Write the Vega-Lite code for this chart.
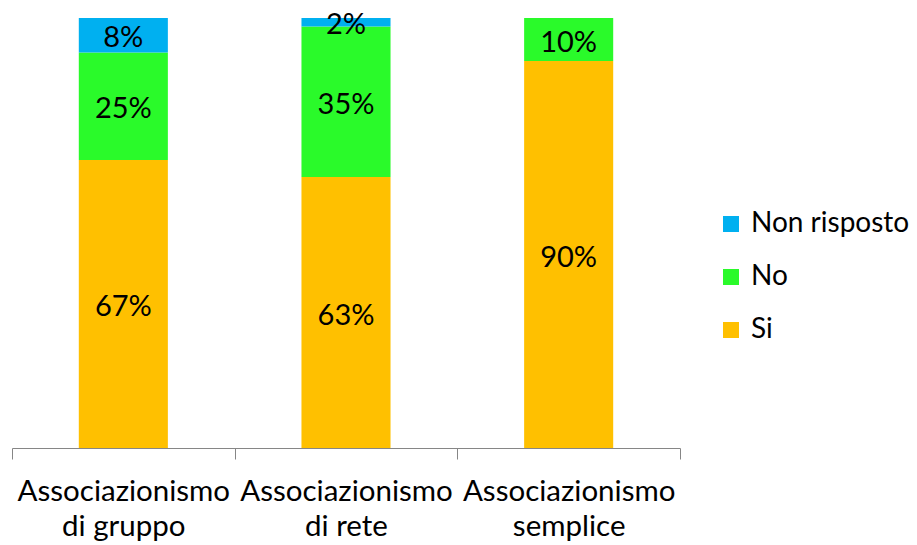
{
  "$schema": "https://vega.github.io/schema/vega-lite/v6.json",
  "autosize": "none",
  "width": 668,
  "height": 430,
  "padding": {"left": 12, "top": 18, "right": 237, "bottom": 97},
  "background": "white",
  "config": {"view": {"stroke": null}, "font": "Lato"},
  "data": {
    "values": [
      {"cat": "Associazionismo\ndi gruppo", "resp": "Si", "pct": 0.67, "ord": 1},
      {"cat": "Associazionismo\ndi gruppo", "resp": "No", "pct": 0.25, "ord": 2},
      {"cat": "Associazionismo\ndi gruppo", "resp": "Non risposto", "pct": 0.08, "ord": 3},
      {"cat": "Associazionismo\ndi rete", "resp": "Si", "pct": 0.63, "ord": 1},
      {"cat": "Associazionismo\ndi rete", "resp": "No", "pct": 0.35, "ord": 2},
      {"cat": "Associazionismo\ndi rete", "resp": "Non risposto", "pct": 0.02, "ord": 3},
      {"cat": "Associazionismo\nsemplice", "resp": "Si", "pct": 0.90, "ord": 1},
      {"cat": "Associazionismo\nsemplice", "resp": "No", "pct": 0.10, "ord": 2}
    ]
  },
  "transform": [
    {"stack": "pct", "groupby": ["cat"], "sort": [{"field": "ord"}], "as": ["y0", "y1"]},
    {"calculate": "(datum.y0 + datum.y1) / 2", "as": "ymid"}
  ],
  "encoding": {
    "x": {
      "field": "cat", "type": "nominal", "sort": null,
      "scale": {"paddingInner": 0, "paddingOuter": 0},
      "axis": {
        "title": null,
        "labelAngle": 0,
        "labelExpr": "split(datum.label, '\\n')",
        "labelFontSize": 29.5,
        "labelColor": "black",
        "labelLineHeight": 35,
        "labelPadding": 18,
        "labelBaseline": "top",
        "tickBand": "extent",
        "tickSize": 11,
        "tickColor": "#868686",
        "domainColor": "#868686",
        "labelLimit": 400
      }
    }
  },
  "layer": [
    {
      "mark": {"type": "bar", "width": {"band": 0.4}},
      "encoding": {
        "y": {"field": "y0", "type": "quantitative", "scale": {"domain": [0, 1]}, "axis": null},
        "y2": {"field": "y1"},
        "color": {
          "field": "resp", "type": "nominal",
          "scale": {"domain": ["Non risposto", "No", "Si"], "range": ["#00B0F0", "#2AFA2A", "#FFC000"]},
          "legend": {
            "title": null,
            "orient": "none",
            "legendX": 705,
            "legendY": 192,
            "symbolType": "square",
            "symbolSize": 256,
            "symbolStrokeWidth": 0,
            "labelFontSize": 28,
            "labelColor": "black",
            "rowPadding": 25,
            "labelOffset": 6,
            "labelLimit": 300
          }
        }
      }
    },
    {
      "mark": {"type": "text", "fontSize": 29, "color": "black", "baseline": "middle", "dy": 3},
      "encoding": {
        "y": {"field": "ymid", "type": "quantitative"},
        "text": {"field": "pct", "type": "quantitative", "format": ".0%"}
      }
    }
  ]
}
